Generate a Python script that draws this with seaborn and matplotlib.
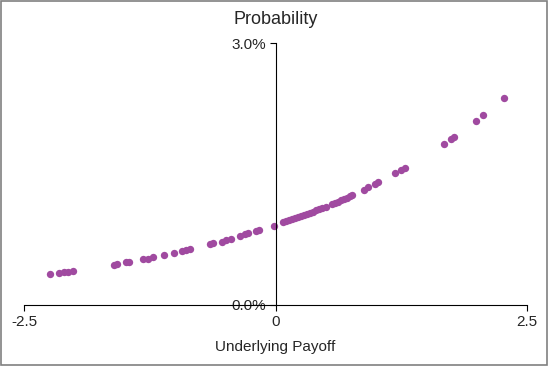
import numpy as np
import pandas as pd
import matplotlib
matplotlib.use("Agg")
import matplotlib.pyplot as plt
import seaborn as sns
from matplotlib.ticker import PercentFormatter
from matplotlib.patches import Rectangle

# values
payoff = [-2.244, -2.158, -2.102, -2.069, -2.019, -1.611, -1.584, -1.487, -1.464,
          -1.322, -1.275, -1.222, -1.112, -1.009, -0.929, -0.889, -0.857, -0.657,
          -0.624, -0.531, -0.491, -0.441, -0.359, -0.309, -0.276, -0.192, -0.166,
          -0.020, 0.073, 0.10, 0.13, 0.16, 0.19, 0.22, 0.25, 0.28, 0.31, 0.34,
          0.37, 0.40, 0.43, 0.46, 0.50, 0.56, 0.59, 0.62, 0.65, 0.68, 0.71, 0.74,
          0.76, 0.876, 0.923, 0.989, 1.023, 1.188, 1.252, 1.288, 1.673, 1.743,
          1.773, 1.992, 2.065, 2.271]
prob_pct = [0.356, 0.368, 0.379, 0.383, 0.391, 0.463, 0.471, 0.491, 0.494,
            0.521, 0.532, 0.544, 0.575, 0.598, 0.617, 0.629, 0.636, 0.698,
            0.705, 0.721, 0.739, 0.759, 0.793, 0.808, 0.820, 0.843, 0.854,
            0.908, 0.946, 0.958, 0.970, 0.982, 0.994, 1.006, 1.018, 1.031, 1.043, 1.056,
            1.069, 1.082, 1.095, 1.108, 1.126, 1.155, 1.170, 1.184, 1.199, 1.215, 1.230, 1.246,
            1.261, 1.322, 1.348, 1.387, 1.406, 1.506, 1.548, 1.571, 1.847, 1.900,
            1.923, 2.107, 2.172, 2.368]

df = pd.DataFrame({"payoff": payoff, "prob": np.array(prob_pct) / 100})

sns.set_style("white")
plt.rcParams["font.family"] = ["Liberation Sans", "DejaVu Sans"]

fig = plt.figure(figsize=(5.48, 3.66), dpi=100)
ax = fig.add_axes([0.0447, 0.1667, 0.9166, 0.7158])

sns.scatterplot(data=df, x="payoff", y="prob", color="#A04AA0", s=28,
                linewidth=0, ax=ax)

ax.set_xlim(-2.5, 2.5)
ax.set_ylim(0, 0.03)
ax.set_xticks([-2.5, 0, 2.5])
ax.set_xticklabels(["-2.5", "0", "2.5"])
ax.set_yticks([0, 0.03])
ax.yaxis.set_major_formatter(PercentFormatter(1.0, decimals=1))

ax.spines["left"].set_position(("data", 0))
ax.spines["top"].set_visible(False)
ax.spines["right"].set_visible(False)
for s in ["left", "bottom"]:
    ax.spines[s].set_color("black")
    ax.spines[s].set_linewidth(0.8)

ax.tick_params(axis="both", direction="out", length=4, width=0.8,
               color="black", labelsize=11, pad=3, left=True, bottom=True)
ax.set_xlabel("Underlying Payoff", fontsize=11, labelpad=8)
ax.set_ylabel("")
ax.set_title("Probability", fontsize=13, pad=14)

fig.patches.append(Rectangle((0.001, 0.002), 0.997, 0.995, transform=fig.transFigure,
                             fill=False, edgecolor="#808080", linewidth=1.2))

fig.savefig("out.png", dpi=100)
